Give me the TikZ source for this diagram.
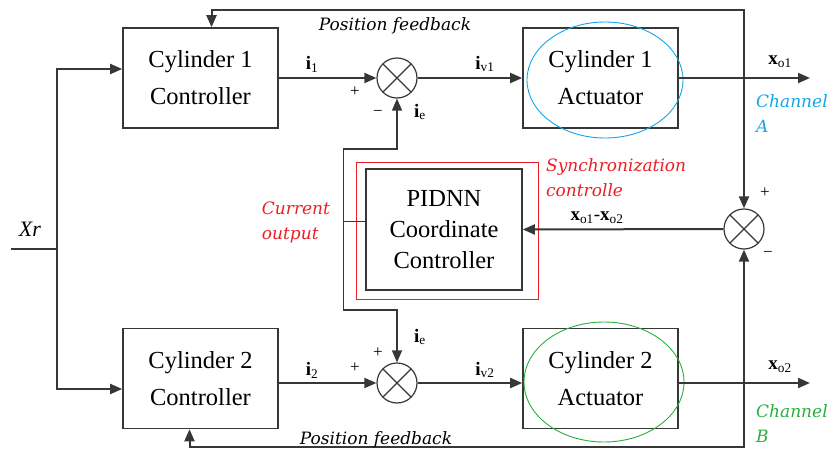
\documentclass[tikz,border=0pt]{standalone}
\usepackage{fontspec}
\setmainfont{Liberation Serif}
\newfontfamily\notefont{DejaVu Serif}
\usetikzlibrary{positioning,calc,arrows.meta}
\definecolor{chanA}{RGB}{20,165,230}
\definecolor{chanB}{RGB}{40,175,60}
\definecolor{syncred}{RGB}{235,30,35}
\definecolor{wiregray}{RGB}{55,55,55}

\begin{document}
\begin{tikzpicture}[x=1pt,y=-1pt,>={Triangle[length=12pt,width=10pt]},
  block/.style={draw=wiregray,line width=1.6pt,minimum width=155pt,minimum height=100pt,
    align=center,inner sep=0pt,font=\fontsize{24.5}{37}\selectfont},
  junction/.style={circle,draw=wiregray,line width=1.2pt,minimum size=40pt,inner sep=0pt,
    path picture={\draw[wiregray,line width=1.2pt]
      (path picture bounding box.north west) -- (path picture bounding box.south east)
      (path picture bounding box.north east) -- (path picture bounding box.south west);}},
  wire/.style={line width=2pt,draw=wiregray},
  sig/.style={font=\fontsize{19}{19}\selectfont},
  sign/.style={font=\fontsize{17}{17}\selectfont},
  note/.style={font=\notefont\fontsize{17}{25}\selectfont\itshape,align=left,inner sep=0pt}]
  \useasboundingbox (0,0) rectangle (836,452);

  % blocks of the two channels
  \node[block] (ctrlA) at (200.5,78) {Cylinder 1\\Controller};
  \node[block] (ctrlB) at (200.5,378.5) {Cylinder 2\\Controller};
  \node[block] (actA) at (600.5,78) {Cylinder 1\\Actuator};
  \node[block] (actB) at (600.5,378.5) {Cylinder 2\\Actuator};
  \draw[chanA,line width=0.9pt] (605,80) ellipse (78pt and 58pt);
  \draw[chanB,line width=0.9pt] (604,382) ellipse (80pt and 60pt);

  % coordinate controller and its red frame
  \node[block,minimum width=156pt,minimum height=121pt] (pidnn) at (444,229.5)
    {PIDNN\\[-6pt]Coordinate\\[-6pt]Controller};
  \draw[syncred,line width=1pt] ($(pidnn.north west)+(-9,-6)$) rectangle ($(pidnn.south east)+(16,9)$);

  % summing junctions
  \node[junction] (sumA) at (397,78) {};
  \node[junction] (sumB) at (397,383) {};
  \node[junction] (sumC) at (744,229) {};

  % reference input
  \coordinate (xin) at (11,249);
  \coordinate (split) at (57,249);
  \draw[wire] (xin) -- (split);
  \draw[wire,->] (split) |- ($(ctrlA.west)+(0,-9)$);
  \draw[wire,->] (split) |- ($(ctrlB.west)+(0,10.5)$);
  \node[font=\fontsize{22}{22}\selectfont\itshape] (xr) at (30,229) {Xr};

  % forward paths
  \draw[wire,->] (ctrlA.east) -- (sumA.west);
  \draw[wire,->] (sumA.east) -- (actA.west);
  \draw[wire,->] (ctrlB.east |- sumB) -- (sumB.west);
  \draw[wire,->] (sumB.east) -- (actB.west |- sumB);
  \coordinate (outA) at (810,78);
  \coordinate (outB) at (810,383);
  \coordinate (tapA) at (sumC.north |- outA);
  \coordinate (tapB) at (sumC.south |- outB);
  \draw[wire,->] (actA.east) -- (outA);
  \draw[wire,->] (actB.east |- outB) -- (outB);

  % position feedback and synchronisation error
  \coordinate (topfb) at (744,10);
  \coordinate (botfb) at (744,447);
  \draw[wire,->] (tapA) -- (topfb) -| ($(ctrlA.north)+(11,0)$);
  \draw[wire,->] (tapB) -- (botfb) -| ($(ctrlB.south)+(-11,0)$);
  \draw[wire,->] (tapA) -- (sumC.north);
  \draw[wire,->] (tapB) -- (sumC.south);
  \draw[wire,->] (sumC.west) -- (pidnn.east);

  % current output of the coordinate controller
  \coordinate (lvlA) at (0,149);
  \coordinate (lvlB) at (0,310);
  \draw[wire,line width=1.4pt] ($(pidnn.west)+(0,-8)$) -- ++(-22,0) coordinate (cur);
  \draw[wire,line width=1.4pt,->] (cur) |- (sumA.south |- lvlA) -- (sumA.south);
  \draw[wire,line width=1.4pt,->] (cur) |- (sumB.north |- lvlB) -- (sumB.north);

  % signal labels
  \node[sig] (i1) at (312,64) {\textbf{i}\textsubscript{1}};
  \node[sig] (iv1) at (485,64) {\textbf{i}\textsubscript{v1}};
  \node[sig] (ieA) at (420,112) {\textbf{i}\textsubscript{e}};
  \node[sig] (xo1) at (780,62) {\textbf{x}\textsubscript{o1}};
  \node[sig] (i2) at (312,370) {\textbf{i}\textsubscript{2}};
  \node[sig] (iv2) at (485,370) {\textbf{i}\textsubscript{v2}};
  \node[sig] (ieB) at (420,337) {\textbf{i}\textsubscript{e}};
  \node[sig] (xo2) at (780,367) {\textbf{x}\textsubscript{o2}};
  \node[sig] (err) at (597,218) {\textbf{x}\textsubscript{o1}-\textbf{x}\textsubscript{o2}};

  % signs at the junctions
  \node[sign] (pA) at (355,92) {+};
  \node[sign] (mA) at (378,113) {−};
  \node[sign] (pB1) at (355,368) {+};
  \node[sign] (pB2) at (378,353) {+};
  \node[sign] (pC) at (765,193) {+};
  \node[sign] (mC) at (768,254) {−};

  % notes
  \node[note] (fbtop) at (395,26) {Position feedback};
  \node[note] (fbbot) at (376,440) {Position feedback};
  \node[note,syncred,anchor=north west] (sync) at (546,158) {Synchronization\\controlle};
  \node[note,syncred] (curout) at (296,222) {Current\\output};
  \node[note,chanA,anchor=north west] (chA) at (756,94) {Channel\\A};
  \node[note,chanB,anchor=north west] (chB) at (756,404) {Channel\\B};
\end{tikzpicture}
\end{document}
